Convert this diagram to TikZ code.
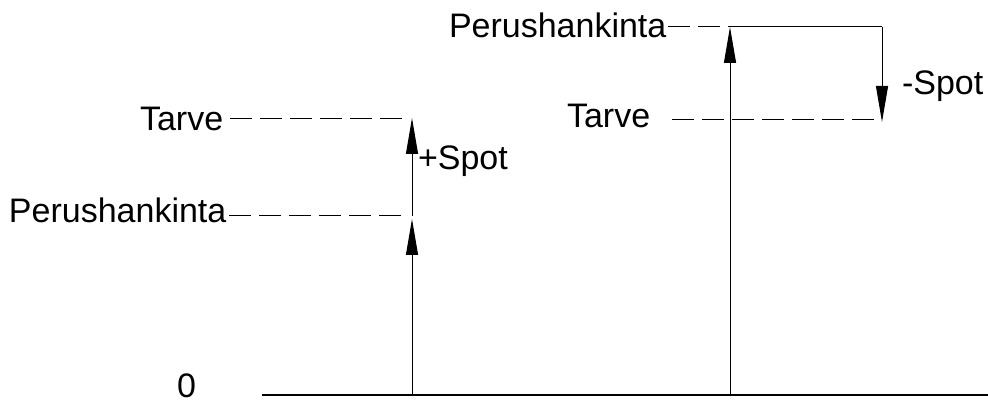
\documentclass[tikz,border=0pt]{standalone}
\usepackage{fontspec}
\setmainfont{Liberation Sans}
\usetikzlibrary{arrows.meta}
\begin{document}
\begin{tikzpicture}[x=1pt,y=1pt,
  lbl/.style={inner sep=0pt,outer sep=0pt,anchor=base west,font=\fontsize{34}{40}\selectfont},
  guide/.style={line width=1pt,dash pattern=on 22pt off 8pt},
  shaft/.style={line width=1pt},
  arr/.style={shaft,-{Triangle[length=36pt,width=12pt]}},
  axis/.style={line width=2pt}]
\useasboundingbox (0,0) rectangle (988,406);
% points
\coordinate (ax0) at (262,11);
\coordinate (ax1) at (988,11);
\coordinate (L0) at (412,11);
\coordinate (LP) at (412,187);
\coordinate (LPs) at (412,190);
\coordinate (LT) at (412,288);
\coordinate (R0) at (730,11);
\coordinate (RP) at (730,379);
\coordinate (RC) at (882,379);
\coordinate (RT) at (882,284);
\coordinate (gLT0) at (230,287);
\coordinate (gLT1) at (406,287);
\coordinate (gLP0) at (229,190);
\coordinate (gLP1) at (406,190);
\coordinate (gRP0) at (668,379);
\coordinate (gRT0) at (672,286);
\coordinate (gRT1) at (880,286);
% labels
\node[lbl] (tarveL) at (140,275) {Tarve};
\node[lbl] (perusL) at (9,183) {Perushankinta};
\node[lbl] (plus) at (418,236) {+Spot};
\node[lbl] (perusR) at (449,368) {Perushankinta};
\node[lbl] (tarveR) at (567,278) {Tarve};
\node[lbl] (minus) at (902,311) {-Spot};
\node[lbl] (zero) at (177,8) {0};
% axis
\draw[axis] (ax0) -- (ax1);
% guides
\draw[guide] (gLT0) -- (gLT1);
\draw[guide] (gLP0) -- (gLP1);
\draw[guide] (gRP0) -- (RP);
\draw[guide] (gRT0) -- (gRT1);
% arrows
\draw[arr] (L0) -- (LP);
\draw[arr] (LPs) -- (LT);
\draw[arr] (R0) -- (RP);
\draw[shaft] (RP) -- (RC);
\draw[arr] (RC) -- (RT);
\end{tikzpicture}
\end{document}
